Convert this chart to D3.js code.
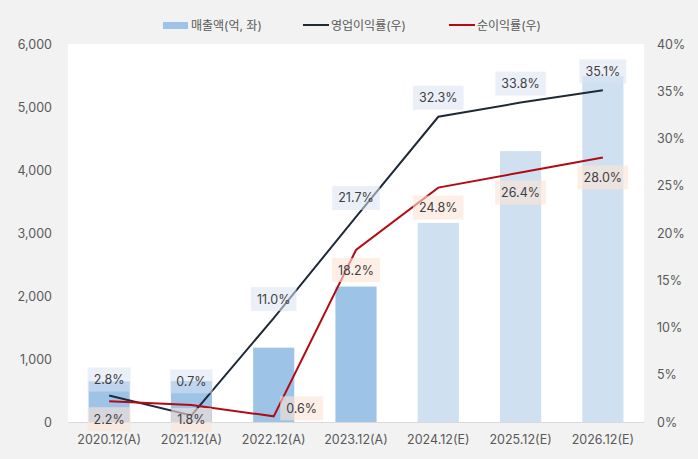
<!DOCTYPE html>
<html><head><meta charset="utf-8">
<script src="https://cdn.jsdelivr.net/npm/d3@7"></script>
<style>
html,body{margin:0;padding:0;background:#f2f2f2;}
svg{display:block;font-family:Inter,"Noto Sans CJK KR","Noto Sans",sans-serif;}
</style></head>
<body><svg id="c" width="698" height="459"></svg>
<script>
const categories = ["2020.12(A)","2021.12(A)","2022.12(A)","2023.12(A)","2024.12(E)","2025.12(E)","2026.12(E)"];
const isEstimate = [false,false,false,false,true,true,true];
const sales = [645, 650, 1180, 2150, 3160, 4300, 5490];
const opMargin = [2.8, 0.7, 11.0, 21.7, 32.3, 33.8, 35.1];
const netMargin = [2.2, 1.8, 0.6, 18.2, 24.8, 26.4, 28.0];
const leftTicks = [0,1000,2000,3000,4000,5000,6000];
const rightTicks = [0,5,10,15,20,25,30,35,40];
const legendLabels = ["매출액(억, 좌)","영업이익률(우)","순이익률(우)"];

// label placement tweaks (layout only)
const opLabelDy = [-16,-34,-19,-19,-19,-19,-19];
const netLabelDx = [0,0,28,0,0,0,0];
const netLabelDy = [18,15,-8,20,20,20,20];

const FONT = "Inter,'Noto Sans CJK KR','Noto Sans',sans-serif";
const svg = d3.select("#c");
const m = {l:68, r:54, t:44, b:37};
const W = 698, H = 459;
const pw = W - m.l - m.r, ph = H - m.t - m.b;

svg.append("rect").attr("x",m.l).attr("y",m.t).attr("width",pw).attr("height",ph).attr("fill","#ffffff");

const x = d3.scaleBand().domain(categories).range([m.l, m.l+pw]).paddingInner(0.5).paddingOuter(0.25);
const xc = d => x(d) + x.bandwidth()/2;
const yL = d3.scaleLinear().domain([0,6000]).range([m.t+ph, m.t]);
const yR = d3.scaleLinear().domain([0,40]).range([m.t+ph, m.t]);

// axes
const axL = d3.axisLeft(yL).tickValues(leftTicks).tickFormat(d3.format(",")).tickSize(0).tickPadding(16);
const gL = svg.append("g").attr("transform",`translate(${m.l},0)`).call(axL);
gL.select(".domain").remove();
const axR = d3.axisRight(yR).tickValues(rightTicks).tickFormat(d=>d+"%").tickSize(0).tickPadding(13);
const gR = svg.append("g").attr("transform",`translate(${m.l+pw},0)`).call(axR);
gR.select(".domain").remove();
const axB = d3.axisBottom(x).tickSize(0).tickPadding(13);
const gB = svg.append("g").attr("transform",`translate(0,${m.t+ph})`).call(axB);
gB.select(".domain").attr("stroke","#d9d9d9");
svg.selectAll(".tick text").attr("fill","#595959").style("font-size","12.5px").style("font-family",FONT);

// bars
svg.append("g").selectAll("rect").data(categories).join("rect")
  .attr("x", d => x(d)).attr("width", x.bandwidth())
  .attr("y", (d,i) => yL(sales[i])).attr("height", (d,i) => yL(0) - yL(sales[i]))
  .attr("fill", (d,i) => isEstimate[i] ? "#cfe0f1" : "#9dc3e6");

// lines
const line = (arr) => d3.line().x((d,i)=>xc(categories[i])).y(d=>yR(d))(arr);
svg.append("path").attr("d", line(opMargin)).attr("fill","none").attr("stroke","#1f2a38").attr("stroke-width",2);
svg.append("path").attr("d", line(netMargin)).attr("fill","none").attr("stroke","#b40a14").attr("stroke-width",2);

// labels
function label(cx, cy, text, fill, op){
  const g = svg.append("g");
  const t = g.append("text").attr("x",cx).attr("y",cy).attr("text-anchor","middle").attr("dominant-baseline","central")
    .attr("fill","#404040").style("font-size","12.5px").text(text);
  const bb = t.node().getBBox();
  g.insert("rect","text").attr("x",bb.x-6).attr("y",cy-12).attr("width",bb.width+12).attr("height",24)
    .attr("fill",fill).attr("fill-opacity",op);
}
opMargin.forEach((v,i)=> label(xc(categories[i]), yR(v)+opLabelDy[i], v.toFixed(1)+"%", "#dae3f3", 0.55));
netMargin.forEach((v,i)=> label(xc(categories[i])+netLabelDx[i], yR(v)+netLabelDy[i], v.toFixed(1)+"%", "#fbe5d6", 0.6));

// legend
const lg = svg.append("g");
const ly = 25;
const items = [{x:163, type:"rect", color:"#9dc3e6"},{x:303, type:"line", color:"#1f2a38"},{x:449, type:"line", color:"#b40a14"}];
items.forEach((it,i)=>{
  if(it.type==="rect") lg.append("rect").attr("x",it.x).attr("y",ly-3).attr("width",25).attr("height",7).attr("fill",it.color);
  else lg.append("line").attr("x1",it.x).attr("x2",it.x+26).attr("y1",ly).attr("y2",ly).attr("stroke",it.color).attr("stroke-width",2);
  lg.append("text").attr("x",it.x+28).attr("y",ly).attr("dominant-baseline","central").attr("fill","#595959")
    .style("font-size","12px").text(legendLabels[i]);
});
</script></body></html>
